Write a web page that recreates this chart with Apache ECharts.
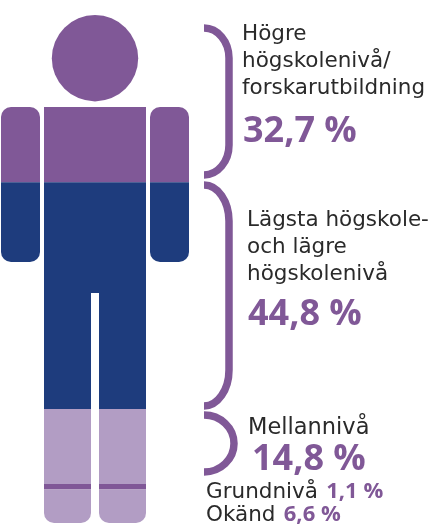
<!DOCTYPE html>
<html><head><meta charset="utf-8">
<style>html,body{margin:0;padding:0;background:#fff}#c{width:431px;height:524px}</style>
<script src="https://cdn.jsdelivr.net/npm/echarts@6/dist/echarts.min.js"></script>
</head><body><div id="c"></div>
<script>
const categories = ['Högre högskolenivå/forskarutbildning','Lägsta högskole- och lägre högskolenivå','Mellannivå','Grundnivå','Okänd'];
const values = [32.7,44.8,14.8,1.1,6.6];
const percentLabels = ['32,7 %','44,8 %','14,8 %','1,1 %','6,6 %'];
const colors = ['#805897','#1e3c7d','#b29dc4','#805897','#b29dc4'];
const PURPLE='#805897', INK='#2a2a2a', FONT='"DejaVu Sans"', BOLD='"Open Sans"';

// silhouette in pixels from the grid's top-left
const parts = [
  {type:'circle',shape:{cx:94,cy:43.2,r:43.2}},
  {type:'rect',shape:{x:0,y:92,width:39,height:155,r:10}},
  {type:'rect',shape:{x:149,y:92,width:39,height:155,r:10}},
  {type:'rect',shape:{x:43,y:92,width:102,height:186}},
  {type:'rect',shape:{x:43,y:260,width:47,height:248,r:[0,0,10,10]}},
  {type:'rect',shape:{x:98,y:260,width:47,height:248,r:[0,0,10,10]}}
];
const braces = [
  {t:28,e:175,x:229,rx:25,ry:30},
  {t:185,e:406,x:229,rx:25,ry:36},
  {t:415,e:472,x:234,rx:30,ry:28.5}
];
const data = values.map((v,i)=>{
  const start = values.slice(0,i).reduce((a,b)=>a+b,0);
  return [start, start+v, i];
});
function renderBand(params, api){
  const i = api.value(2), cs = params.coordSys;
  const y0 = i===0 ? cs.y : api.coord([0,api.value(0)])[1];
  const y1 = api.coord([0,api.value(1)])[1];
  return {type:'group',x:cs.x,y:cs.y,
    clipPath:{type:'rect',shape:{x:-2,y:y0-cs.y,width:cs.width+4,height:y1-y0}},
    children:parts.map(p=>({type:p.type,shape:p.shape,style:{fill:colors[i]}}))};
}
const X0=204;
function bracePath(b){
  const {t,e,x,rx,ry}=b, k=0.55;
  return `M${X0} ${t}C${X0+rx*k} ${t} ${x} ${t+ry*(1-k)} ${x} ${t+ry}L${x} ${e-ry}C${x} ${e-ry*(1-k)} ${X0+rx*k} ${e} ${X0} ${e}`;
}
function renderBrace(params, api){
  const b = braces[api.value(0)];
  return {type:'path',shape:{pathData:bracePath(b),x:X0,y:b.t,width:b.x-X0,height:b.e-b.t,layout:'cover'},
    style:{fill:'none',stroke:PURPLE,lineWidth:7.5}};
}
function T(x,y,text,size,color,weight){
  return {type:'text',x,y,style:{text,fill:color,font:`${weight||400} ${size}px ${weight?BOLD:FONT}`,verticalAlign:'middle'}};
}
const rich=(cat,pct)=>({rich:{a:{fill:INK,font:`400 21.5px ${FONT}`},b:{fill:PURPLE,font:`700 22px ${BOLD}`,padding:[0,0,0,5]}},text:`{a|${cat}} {b|${pct}}`,verticalAlign:'middle'});
const texts = [
  T(242,34,'Högre',21.5,INK),T(242,61,'högskolenivå/',21.5,INK),T(242,88,'forskarutbildning',21.5,INK),
  T(243,132,percentLabels[0],36,PURPLE,700),
  T(247,220,'Lägsta högskole-',21.5,INK),T(247,247,'och lägre',21.5,INK),T(247,274,'högskolenivå',21.5,INK),
  T(248,315,percentLabels[1],36,PURPLE,700),
  T(248,428,categories[2],22.5,INK),
  T(252,460,percentLabels[2],36,PURPLE,700),
  {type:'text',x:206,y:492,style:rich(categories[3],percentLabels[3])},
  {type:'text',x:206,y:515,style:rich(categories[4],percentLabels[4])}
];
const chart = echarts.init(document.getElementById('c'),null,{renderer:'canvas'});
chart.setOption({
  animation:false,
  grid:{left:1,top:15,width:188,height:508},
  xAxis:{type:'value',show:false,min:0,max:1},
  yAxis:{type:'value',show:false,inverse:true,min:-0.3,max:100},
  series:[
    {type:'custom',name:'Utbildningsnivå',renderItem:renderBand,data,clip:false,encode:{y:[0,1]},silent:true},
    {type:'custom',name:'Klamrar',renderItem:renderBrace,data:braces.map((b,i)=>[i]),clip:false,silent:true}
  ],
  graphic:texts
});
</script></body></html>
